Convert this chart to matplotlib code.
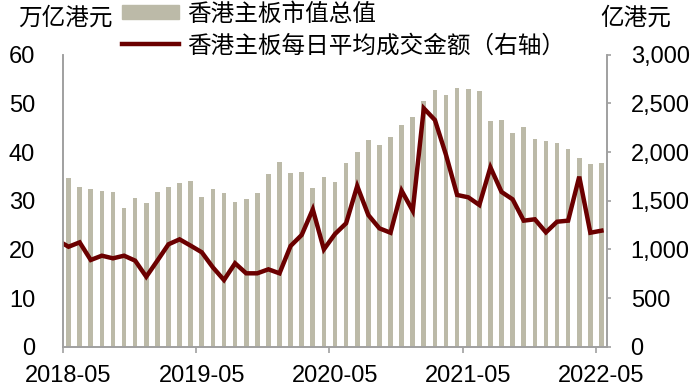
import matplotlib.pyplot as plt
import numpy as np
from matplotlib.lines import Line2D
from matplotlib.patches import Patch
from matplotlib.ticker import FuncFormatter, MultipleLocator

plt.rcParams['font.family'] = ['Liberation Sans', 'Noto Sans CJK SC']

# 月度数据 2018-05 ~ 2022-05
year_labels = ["2018-05", "2019-05", "2020-05", "2021-05", "2022-05"]
market_cap = [34.6, 32.8, 32.5, 31.9, 31.7, 28.4, 30.5, 29.6, 31.7, 32.8,
              33.6, 34.1, 30.8, 32.5, 31.5, 29.7, 30.4, 31.6, 35.5, 37.9,
              35.7, 36.0, 32.6, 34.9, 33.8, 37.7, 40.1, 42.5, 41.4, 43.1,
              45.5, 47.3, 50.5, 52.7, 51.8, 53.1, 53.0, 52.6, 46.4, 46.5,
              44.0, 45.1, 42.6, 42.2, 41.9, 40.7, 38.7, 37.5, 37.7]
turnover_start = 1060
turnover = [1027, 1072, 891, 935, 908, 935, 884, 719, 884, 1052,
            1103, 1038, 970, 815, 685, 857, 754, 754, 795, 754,
            1035, 1148, 1411, 1000, 1158, 1268, 1651, 1353, 1216, 1171,
            1603, 1397, 2449, 2329, 1970, 1559, 1535, 1456, 1843, 1590,
            1514, 1295, 1309, 1175, 1284, 1295, 1747, 1171, 1192]

bar_color = "#BCBAA8"
line_color = "#6B0000"
spine_color = "#A0A0A0"

n = len(market_cap)
x = np.arange(n) + 0.5

fig = plt.figure(figsize=(6.93, 3.88), dpi=100)
ax = fig.add_axes([63 / 693, 1 - 346.7 / 388, 544 / 693, 292 / 388])
ax.bar(x, market_cap, width=0.42, color=bar_color, zorder=2)
ax.set_xlim(0, n)
ax.set_ylim(0, 60)
ax.yaxis.set_major_locator(MultipleLocator(10))

ax2 = ax.twinx()
ax2.plot(np.r_[0, x], np.r_[turnover_start, turnover], color=line_color, lw=3.2,
         solid_joinstyle="miter")
ax2.set_ylim(0, 3000)
ax2.yaxis.set_major_locator(MultipleLocator(500))
ax2.yaxis.set_major_formatter(FuncFormatter(lambda v, p: f"{v:,.0f}"))

# x轴：刻度在分类之间，标签在分类中心
ticks = np.arange(0, n, 12)
ax.set_xticks(ticks)
ax.set_xticklabels([])
ax.set_xticks(ticks + 0.5, year_labels, minor=True)
ax.tick_params(axis="x", which="major", length=4, width=1.2, color=spine_color, direction="out")
ax.tick_params(axis="x", which="minor", length=0, pad=13, labelsize=17)
ax.tick_params(axis="y", length=0, pad=20, labelsize=17)
ax2.tick_params(axis="y", length=3, width=1.2, color=spine_color, pad=14, labelsize=17)

for a in (ax, ax2):
    a.spines["top"].set_visible(False)
    for s in ("left", "right", "bottom"):
        a.spines[s].set_color(spine_color)
        a.spines[s].set_linewidth(1.2)

fig.text(18 / 693, 1 - 18 / 388, "万亿港元", fontsize=17, va="center", ha="left")
fig.text(600 / 693, 1 - 18 / 388, "亿港元", fontsize=17, va="center", ha="left")

handles = [Patch(color=bar_color), Line2D([], [], color=line_color, lw=3.2)]
labels = ["香港主板市值总值", "香港主板每日平均成交金额（右轴）"]
fig.legend(handles, labels, loc="upper left", bbox_to_anchor=(122 / 693, 1 - 3 / 388),
           frameon=False, fontsize=17, handlelength=2.4, handleheight=0.55,
           handletextpad=0.35, labelspacing=0.38, borderpad=0, borderaxespad=0)

fig.savefig("out.png", dpi=100)
